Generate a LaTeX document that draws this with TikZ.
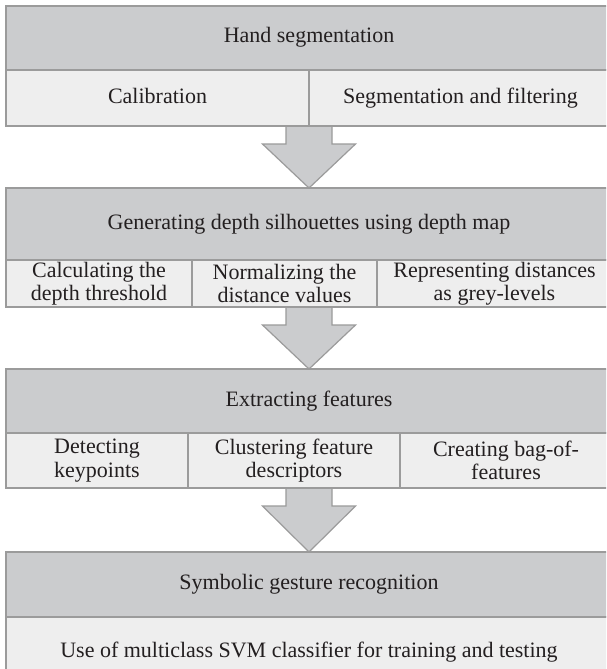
\documentclass[tikz,border=0pt]{standalone}
\usepackage{fontspec}
\setmainfont{Liberation Serif}
\usetikzlibrary{calc,backgrounds}
\definecolor{hdrc}{HTML}{CBCCCE}
\definecolor{subc}{HTML}{EEEEEE}
\definecolor{bord}{HTML}{9B9B9B}
\definecolor{txtc}{HTML}{231F20}
\newcommand\cellfont{\fontsize{22}{23.5}\selectfont}
\begin{document}
\begin{tikzpicture}[x=1pt,y=-1pt,
  boxbase/.style={draw=bord, line width=1.2pt, inner sep=0pt, outer sep=0pt,
    anchor=north west, align=center, font=\cellfont, text=txtc},
  oneline/.style={text height=15pt, text depth=5pt},
  hdr/.style={boxbase, oneline, fill=hdrc, minimum width=606pt},
  cell/.style={boxbase, fill=subc},
  bfill/.style={fill=hdrc},
  bline/.style={draw=bord, line width=1.2pt, line join=miter}]
\useasboundingbox (0,0) rectangle (606,669);
\clip (0,0) rectangle (606,669);
% Box 1
\node[hdr, minimum height=64pt] (h1) at (6,6) {Hand segmentation};
\node[cell, oneline, minimum width=303pt, minimum height=56pt] (c11) at (6,70) {Calibration};
\node[cell, oneline, minimum width=303pt, minimum height=56pt] (c12) at (309,70) {Segmentation and filtering};
% Box 2
\node[hdr, minimum height=72pt] (h2) at (6,188) {Generating depth silhouettes using depth map};
\node[cell, minimum width=186pt, minimum height=47pt] (c21) at (6,260) {Calculating the\\depth threshold};
\node[cell, minimum width=185pt, minimum height=47pt] (c22) at (192,260) {Normalizing the\\distance values};
\node[cell, minimum width=235pt, minimum height=47pt] (c23) at (377,260) {Representing distances\\as grey-levels};
% Box 3
\node[hdr, minimum height=64pt] (h3) at (6,369) {Extracting features};
\node[cell, minimum width=182pt, minimum height=55pt] (c31) at (6,433) {Detecting\\keypoints};
\node[cell, minimum width=212pt, minimum height=55pt] (c32) at (188,433) {Clustering feature\\descriptors};
\node[cell, minimum width=212pt, minimum height=55pt] (c33) at (400,433) {Creating bag-of-\\features};
% Box 4
\node[hdr, minimum height=65pt] (h4) at (6,552) {Symbolic gesture recognition};
\node[cell, oneline, minimum width=606pt, minimum height=70pt] (c41) at (6,617) {Use of multiclass SVM classifier for training and testing};
% Arrows
\coordinate (a1) at (h1.center |- c11.south);
\coordinate (a2) at (h2.center |- c22.south);
\coordinate (a3) at (h3.center |- c32.south);
\begin{pgfonlayer}{background}
\fill[white] (0,0) rectangle (606,669);
\foreach \s/\t in {a1/h2, a2/h3, a3/h4}{
  \fill[bfill] ($(\s)+(-23,0)$) -- ($(\s)+(-23,18)$) -- ($(\s)+(-46.5,18)$) -- (\t.north)
     -- ($(\s)+(46.5,18)$) -- ($(\s)+(23,18)$) -- ($(\s)+(23,0)$) -- cycle;
  \draw[bline] ($(\s)+(-23,0)$) -- ($(\s)+(-23,18)$) -- ($(\s)+(-46.5,18)$) -- (\t.north)
     -- ($(\s)+(46.5,18)$) -- ($(\s)+(23,18)$) -- ($(\s)+(23,0)$);
}
\end{pgfonlayer}
\end{tikzpicture}
\end{document}
